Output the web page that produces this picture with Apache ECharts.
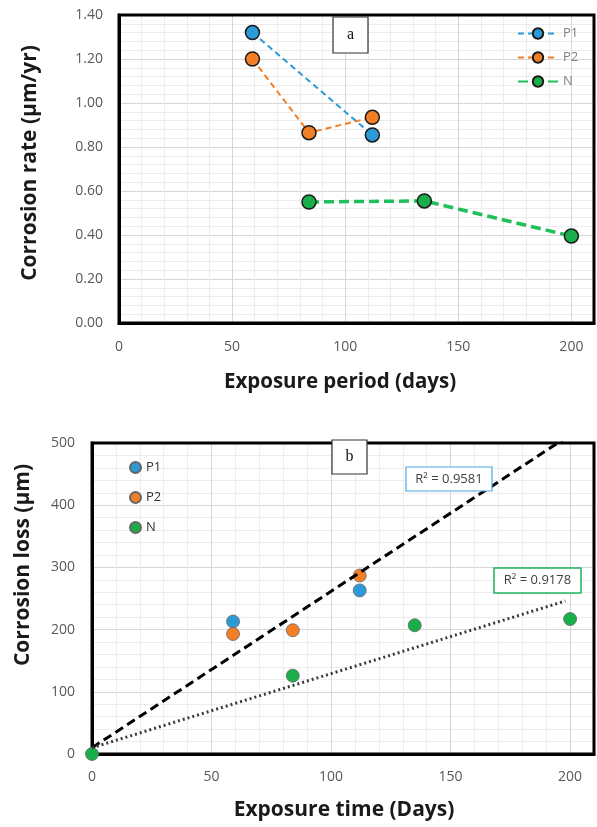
<!DOCTYPE html>
<html><head><meta charset="utf-8">
<script src="https://cdn.jsdelivr.net/npm/echarts@6/dist/echarts.min.js"></script>
<style>html,body{margin:0;padding:0;background:#fff}#c{width:597px;height:827px}</style>
</head><body><div id="c"></div>
<script>
// ---- Chart (a): corrosion rate vs exposure period ----
const rateP1 = [[59, 1.32], [112, 0.855]];
const rateP2 = [[59, 1.20], [84, 0.865], [112, 0.935]];
const rateN  = [[84, 0.55], [135, 0.555], [200, 0.395]];
// ---- Chart (b): corrosion loss vs exposure time ----
const lossP1 = [[59, 213], [112, 263]];
const lossP2 = [[59, 193], [84, 199], [112, 287]];
const lossN  = [[0, 0], [84, 126], [135, 207], [200, 217]];
const trendP = [[0, 10], [200, 513]];
const trendN = [[0, 10], [198, 246]];
const r2P = 'R\u00B2 = 0.9581';
const r2N = 'R\u00B2 = 0.9178';
const seriesNames = ['P1', 'P2', 'N'];
const xMax = 210, yMaxA = 1.4, yMaxB = 500;

const C_BLUE = '#2b9ad6', C_ORANGE = '#f27e25', C_GREEN = '#1aae4a', C_GREEN_LINE = '#1fbf5a';
const MAJOR = '#d6d6d6', MINOR = '#ededed';
const gridColors = [MAJOR, MINOR, MINOR, MINOR, MINOR];
const FONT = '"Open Sans", Lato, sans-serif';
const lab = {color: '#595959', fontSize: 14, fontFamily: FONT};
const border = {show: true, onZero: false, lineStyle: {color: '#000', width: 3}};

function mainX(grid, max, step, label, margin) {
  return {type: 'value', gridIndex: grid, min: 0, max: max, interval: step,
    axisLine: border, axisTick: {show: false},
    axisLabel: Object.assign({margin: margin, formatter: v => (v % label === 0 && v <= 200) ? String(v) : ''}, lab),
    splitLine: {show: true, showMaxLine: false, lineStyle: {color: gridColors, width: 1}}};
}
function mainY(grid, max, step, fmt, margin) {
  return {type: 'value', gridIndex: grid, min: 0, max: max, interval: step,
    axisLine: border, axisTick: {show: false},
    axisLabel: Object.assign({margin: margin, formatter: fmt}, lab),
    splitLine: {show: true, showMaxLine: false, lineStyle: {color: gridColors, width: 1}}};
}

const chart = echarts.init(document.getElementById('c'), null, {renderer: 'canvas'});
const markA = c => ({color: c, borderColor: '#1a1a1a', borderWidth: 1.5, opacity: 1});
const markB = c => ({color: c, borderColor: '#666', borderWidth: 0.8, opacity: 1});

const staticGraphics = [
    // axis titles
    {type: 'text', x: 30, y: 163, rotation: Math.PI / 2,
     style: {text: 'Corrosion rate (\u00B5m/yr)', font: 'bold 21px ' + FONT, fill: '#1a1a1a', align: 'center', verticalAlign: 'middle'}},
    {type: 'text', x: 340, y: 382,
     style: {text: 'Exposure period (days)', font: 'bold 20.5px ' + FONT, fill: '#1a1a1a', align: 'center', verticalAlign: 'middle'}},
    {type: 'text', x: 23, y: 565, rotation: Math.PI / 2,
     style: {text: 'Corrosion loss (\u00B5m)', font: 'bold 21px ' + FONT, fill: '#1a1a1a', align: 'center', verticalAlign: 'middle'}},
    {type: 'text', x: 344, y: 810,
     style: {text: 'Exposure time (Days)', font: 'bold 21px ' + FONT, fill: '#1a1a1a', align: 'center', verticalAlign: 'middle'}},
    // panel labels
    {type: 'rect', shape: {x: 333, y: 17, width: 35, height: 36}, style: {fill: '#fff', stroke: '#333', lineWidth: 1.2}, z: 10},
    {type: 'text', x: 350.5, y: 35, z: 11, style: {text: 'a', font: '16px "Liberation Serif", serif', fill: '#111', align: 'center', verticalAlign: 'middle'}},
    {type: 'rect', shape: {x: 332, y: 440, width: 35, height: 34}, style: {fill: '#fff', stroke: '#333', lineWidth: 1.2}, z: 10},
    {type: 'text', x: 349.5, y: 457, z: 11, style: {text: 'b', font: '16px "Liberation Serif", serif', fill: '#111', align: 'center', verticalAlign: 'middle'}},
    // R² boxes
    {type: 'rect', shape: {x: 406, y: 467, width: 86, height: 24}, style: {fill: '#fff', stroke: '#4aa8de', lineWidth: 1.2}, z: 10},
    {type: 'text', x: 449, y: 479.5, z: 11, style: {text: r2P, font: '13px ' + FONT, fill: '#404040', align: 'center', verticalAlign: 'middle'}},
    {type: 'rect', shape: {x: 494, y: 568, width: 87, height: 25}, style: {fill: '#fff', stroke: '#1db45a', lineWidth: 1.5}, z: 10},
    {type: 'text', x: 537.5, y: 580.5, z: 11, style: {text: r2N, font: '13px ' + FONT, fill: '#404040', align: 'center', verticalAlign: 'middle'}}
];

chart.setOption({
  animation: false,
  backgroundColor: '#fff',
  grid: [
    {left: 119, top: 15, right: 2, height: 308},
    {left: 92, top: 443, right: 2, height: 311}
  ],
  xAxis: [
    mainX(0, xMax, 10, 50, 17),
    mainX(1, xMax, 10, 50, 16)
  ],
  yAxis: [
    mainY(0, yMaxA, 0.04, v => (Math.abs(v * 5 - Math.round(v * 5)) < 1e-6) ? v.toFixed(2) : '', 16),
    mainY(1, yMaxB, 20, v => (v % 100 === 0) ? String(v) : '', 17)
  ],
  legend: [
    {orient: 'vertical', left: 512, top: 22, itemWidth: 40, itemHeight: 13, itemGap: 11,
     data: seriesNames, textStyle: {color: '#808080', fontSize: 13, fontFamily: FONT}},
    {orient: 'vertical', left: 124, top: 456, itemWidth: 11, itemHeight: 11, itemGap: 17, icon: 'circle',
     data: seriesNames.map(n => n + ' '), formatter: n => n.trim(),
     textStyle: {color: '#333', fontSize: 13, fontFamily: FONT}}
  ],
  series: [
    {name: 'P1', type: 'line', xAxisIndex: 0, yAxisIndex: 0, data: rateP1, symbol: 'circle', symbolSize: 14, z: 3,
     lineStyle: {color: C_BLUE, width: 2, type: [6, 4]}, itemStyle: markA(C_BLUE)},
    {name: 'P2', type: 'line', xAxisIndex: 0, yAxisIndex: 0, data: rateP2, symbol: 'circle', symbolSize: 14, z: 3,
     lineStyle: {color: C_ORANGE, width: 2, type: [6, 4]}, itemStyle: markA(C_ORANGE)},
    {name: 'N', type: 'line', xAxisIndex: 0, yAxisIndex: 0, data: rateN, symbol: 'circle', symbolSize: 14, z: 3,
     lineStyle: {color: C_GREEN_LINE, width: 3.5, type: [10, 5]}, itemStyle: markA(C_GREEN)},

    {name: 'P1 ', type: 'scatter', xAxisIndex: 1, yAxisIndex: 1, data: lossP1, symbolSize: 13, z: 3, itemStyle: markB(C_BLUE)},
    {name: 'P2 ', type: 'scatter', xAxisIndex: 1, yAxisIndex: 1, data: lossP2, symbolSize: 13, z: 3, itemStyle: markB(C_ORANGE)},
    {name: 'N ', type: 'scatter', xAxisIndex: 1, yAxisIndex: 1, data: lossN, symbolSize: 13, z: 3, itemStyle: markB(C_GREEN)},
    {name: 'trendP', type: 'line', xAxisIndex: 1, yAxisIndex: 1, data: trendP, symbol: 'none', z: 4, silent: true,
     lineStyle: {color: '#000', width: 3, type: [9, 5]}},
    {name: 'trendN', type: 'line', xAxisIndex: 1, yAxisIndex: 1, data: trendN, symbol: 'none', z: 4, silent: true,
     lineStyle: {color: '#3a3a3a', width: 3, type: [2, 3]}}
  ],
  graphic: staticGraphics
});

// plot-area frames derived from the axes' own scales (drawn beneath the data marks)
function frameFor(gridIndex, yMax) {
  const tl = chart.convertToPixel({gridIndex: gridIndex}, [0, yMax]);
  const br = chart.convertToPixel({gridIndex: gridIndex}, [xMax, 0]);
  return {type: 'rect', z: 1, silent: true,
    shape: {x: tl[0], y: tl[1], width: br[0] - tl[0], height: br[1] - tl[1]},
    style: {fill: null, stroke: '#000', lineWidth: 3}};
}
chart.setOption({graphic: staticGraphics.concat([frameFor(0, yMaxA), frameFor(1, yMaxB)])});
</script></body></html>
